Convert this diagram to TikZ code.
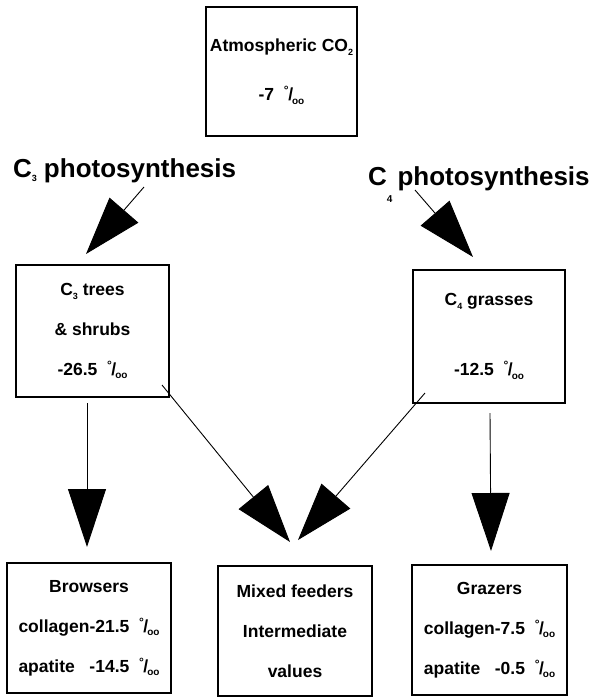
\documentclass[tikz,border=0pt]{standalone}
\usepackage{fontspec}
\setmainfont{Liberation Sans}
\usetikzlibrary{arrows.meta}

\newcommand{\permil}{\raisebox{6pt}{\fontsize{12}{12}\selectfont °}\kern-0.5pt/\kern-1pt\raisebox{-3.5pt}{\fontsize{10}{10}\selectfont oo}}
\newcommand{\lowsub}[1]{\raisebox{-4pt}{\fontsize{9}{9}\selectfont #1}}

\begin{document}
\begin{tikzpicture}[x=1pt, y=-1pt,
  panel/.style={draw, line width=2.4pt, align=center, inner sep=0pt,
    font=\fontsize{17.5}{40}\selectfont\bfseries},
  bigarrow/.style={line width=0.9pt, -{Triangle[length=58pt, width=38pt]}},
  biglabel/.style={font=\fontsize{26}{26}\selectfont\bfseries, inner sep=0pt}]

\useasboundingbox (0,0) rectangle (594,699);

%% Define the boxes
% atm = atmosphere
% tr = C3 trees, gr = C4 grasses
% bw = browsers, mx = mixed feeders, gz = grazers

\node [panel, minimum width=151, minimum height=129] (atm) at (281.5, 71.5)
  {Atmospheric CO\lowsub{2}\\[9pt] -7\ \ \permil};

\node [panel, minimum width=153, minimum height=132] (tr) at (92.5, 331)
  {C\lowsub{3} trees\\ \& shrubs\\ -26.5\ \ \permil};
\node [panel, minimum width=152, minimum height=133] (gr) at (489, 336.5)
  {C\lowsub{4} grasses\\[30pt] -12.5\ \ \permil};

\node [panel, minimum width=164, minimum height=130] (bw) at (89, 628)
  {Browsers\\ collagen-21.5\ \ \permil\\ apatite\ \ \ -14.5\ \ \permil};
\node [panel, minimum width=154, minimum height=130] (mx) at (295, 631)
  {Mixed feeders\\ Intermediate\\ values};
\node [panel, minimum width=155, minimum height=130] (gz) at (489.5, 630)
  {Grazers\\ collagen-7.5\ \ \permil\\ apatite\ \ \ -0.5\ \ \permil};

%% Photosynthesis labels
\node [biglabel, anchor=base west] (c3lab) at (13, 177)
  {C\lowsub{3}\hspace{7pt}photosynthesis};
\node [biglabel, anchor=base west] (c4lab) at (368, 185)
  {C\raisebox{-17pt}{\fontsize{10}{10}\selectfont 4}\hspace{5pt}photosynthesis};

%% Define the arrow ends
% s = start (line), t = tip (head)
\coordinate (c3s) at (144, 187);
\coordinate (c3t) at (86, 254);
\coordinate (c4s) at (415, 190);
\coordinate (c4t) at (473, 257);

\coordinate (trBs) at (87, 403);
\coordinate (trBt) at (87, 547);
\coordinate (trMs) at (162, 385);
\coordinate (trMt) at (290, 542);

\coordinate (grMs) at (425, 393);
\coordinate (grMt) at (298, 540);
\coordinate (grGs) at (490, 413);
\coordinate (grGt) at (491, 551);

%% Draw the arrows
\draw [bigarrow] (c3s) -- (c3t);
\draw [bigarrow] (c4s) -- (c4t);

\draw [bigarrow] (trBs) -- (trBt);
\draw [bigarrow] (trMs) -- (trMt);
\draw [bigarrow] (grMs) -- (grMt);
\draw [bigarrow] (grGs) -- (grGt);

\end{tikzpicture}
\end{document}
